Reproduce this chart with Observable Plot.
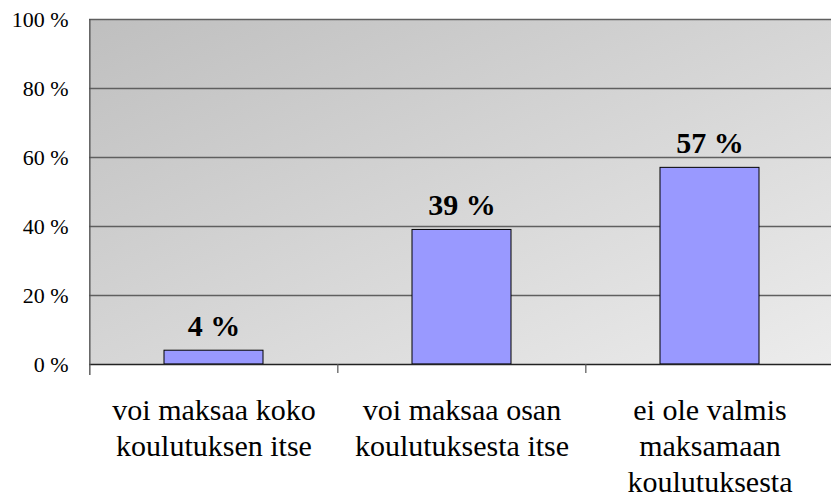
<!DOCTYPE html>
<html><head><meta charset="utf-8">
<script src="https://cdn.jsdelivr.net/npm/d3@7"></script>
<script src="https://cdn.jsdelivr.net/npm/@observablehq/plot@0.6"></script>
<style>
body{margin:0;background:#fff;overflow:hidden}
</style>
</head><body><div id="chart"></div>
<script>
const categories = ["voi maksaa koko\nkoulutuksen itse", "voi maksaa osan\nkoulutuksesta itse", "ei ole valmis\nmaksamaan\nkoulutuksesta"];
const values = [4, 39, 57];
const valueLabels = ["4 %", "39 %", "57 %"];
const yTicks = [0, 20, 40, 60, 80, 100];
const gridTicks = [20, 40, 60, 80, 100];

const data = categories.map((c, i) => ({category: c, value: values[i], label: valueLabels[i]}));

const left = 89, right = 834, outer = 0.3;
const step = (right - left) / categories.length;
const font = "'Liberation Serif', 'Times New Roman', serif";

const plot = Plot.plot({
  width: 831, height: 499,
  marginTop: 19, marginBottom: 135, marginLeft: 89, marginRight: 0,
  style: {background: "transparent", overflow: "visible", fontFamily: font},
  x: {domain: categories, range: [left, right], paddingInner: 0.6, paddingOuter: outer, axis: null},
  y: {domain: [0, 100], ticks: yTicks, tickFormat: d => d + " %", label: null},
  marks: [
    Plot.frame({fill: "url(#bgGrad)", stroke: "none"}),
    Plot.ruleY(gridTicks, {stroke: "#5f5f5f", strokeWidth: 1.4}),
    Plot.barY(data, {x: "category", y: "value", fill: "#9999ff", stroke: "#000", strokeWidth: 1}),
    Plot.ruleY([0], {stroke: "#222", strokeWidth: 1.3}),
    Plot.ruleX(categories.slice(1), {x: d => d, y1: 0, y2: -2.6, dx: -step / 2, stroke: "#555", strokeWidth: 1.2}),
    Plot.ruleX([categories[0]], {x: d => d, y1: 100, y2: -3.2, dx: -step / 2, stroke: "#555", strokeWidth: 1.4}),
    Plot.axisY({ticks: yTicks, tickSize: 0, tickPadding: 21, fontSize: 22, fontFamily: font, tickFormat: d => d + " %", fill: "#000", label: null}),
    Plot.text(data, {x: "category", y: "value", text: "label", lineAnchor: "bottom", dy: -15, fontSize: 30, fontFamily: font, fontWeight: "bold", fill: "#000"}),
    Plot.text(data, {x: "category", y: d => 0, text: "category", lineAnchor: "top", dy: 30, lineHeight: 1.2, fontSize: 30, fontFamily: font, fill: "#000"})
  ]
});

const svgNS = "http://www.w3.org/2000/svg";
const defs = document.createElementNS(svgNS, "defs");
defs.innerHTML = '<linearGradient id="bgGrad" x1="0" y1="0" x2="1" y2="1"><stop offset="0" stop-color="#bfbfbf"/><stop offset="1" stop-color="#ececec"/></linearGradient>';
plot.insertBefore(defs, plot.firstChild);
document.getElementById("chart").appendChild(plot);
</script>
</body></html>
